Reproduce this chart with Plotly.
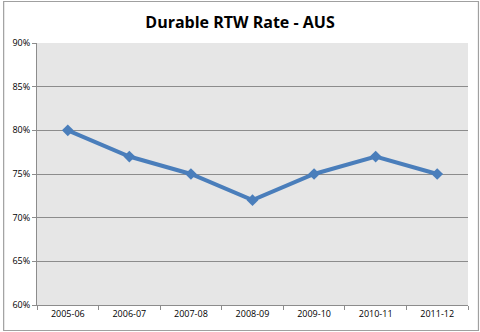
import plotly.graph_objects as go

years = ["2005-06", "2006-07", "2007-08", "2008-09", "2009-10", "2010-11", "2011-12"]
rtw_rate = [0.80, 0.77, 0.75, 0.72, 0.75, 0.77, 0.75]

W, H = 480, 332
L, R, T, B = 35, 12, 43, 27
pw, ph = W - L - R, H - T - B

fig = go.Figure()
fig.add_trace(go.Scatter(
    x=years, y=rtw_rate, mode="lines+markers",
    line=dict(color="#4A7EBB", width=4),
    marker=dict(symbol="diamond", size=9, color="#4A7EBB"),
    showlegend=False,
))

# thin grey frame around the whole chart
fig.add_shape(type="rect", xref="paper", yref="paper",
              x0=(1.5 - L) / pw, x1=(W - 1.5 - L) / pw,
              y0=-(B - 1.5) / ph, y1=1 + (T - 1.5) / ph,
              line=dict(color="#A0A0A0", width=1.2), layer="below")

fig.update_layout(
    width=W, height=H,
    margin=dict(l=L, r=R, t=T, b=B),
    paper_bgcolor="white",
    plot_bgcolor="#E6E6E6",
    title=dict(text="<b>Durable RTW Rate - AUS</b>", x=0.5, xanchor="center",
               y=1 - 22 / H, yanchor="middle",
               font=dict(family="Open Sans, Liberation Sans, sans-serif", size=16, color="black")),
    font=dict(family="Open Sans, Liberation Sans, sans-serif", size=9, color="black"),
    xaxis=dict(
        type="category", tickson="boundaries", ticks="outside", ticklen=4,
        tickcolor="#8C8C8C", showline=True, linecolor="#8C8C8C", linewidth=1,
        showgrid=False, range=[-0.5, 6.5], tickfont=dict(size=9),
    ),
    yaxis=dict(
        range=[0.6, 0.9], dtick=0.05, tickformat=".0%", ticks="outside", ticklen=4,
        tickcolor="#8C8C8C", showline=True, linecolor="#8C8C8C", linewidth=1,
        showgrid=True, gridcolor="#8C8C8C", gridwidth=1, zeroline=False,
        tickfont=dict(size=9),
    ),
)

fig.write_html("out.html")
